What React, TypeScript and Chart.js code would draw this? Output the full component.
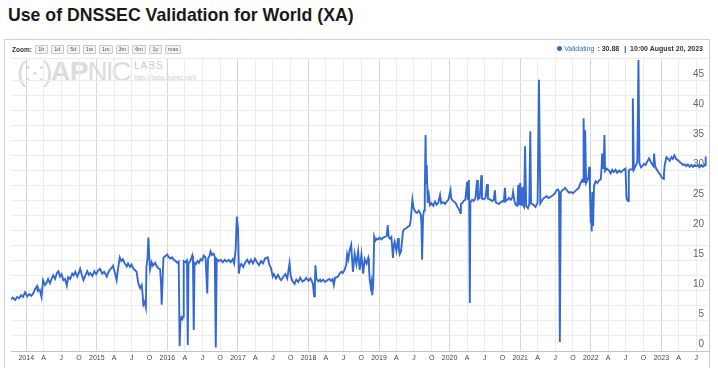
import React, { useEffect, useRef } from 'react';
import { Chart, registerables } from 'chart.js';

Chart.register(...registerables);

// ---------- data ----------
const chartTitle = 'Use of DNSSEC Validation for World (XA)';
const seriesName = 'Validating';
const lastValueText = '30.88';
const lastTimeText = '10:00 August 20, 2023';
const zoomButtons = ['1h', '1d', '5d', '1w', '1m', '3m', '6m', '1y', 'max'];
const quarterLetters = ['', 'A', 'J', 'O']; // Jan shows the year
const xRange = ['2013-10-14', '2023-08-31'];
const yMax = 48.83;
const yGridStep = 2.5;
const yLabelStep = 5;

const dates = [
  '2013-10-14','2013-10-24','2013-11-04','2013-11-15','2013-11-25','2013-12-05','2013-12-15','2013-12-26',
  '2014-01-06','2014-01-16','2014-01-27','2014-02-06','2014-02-17','2014-02-26','2014-03-02','2014-03-12',
  '2014-03-21','2014-03-29','2014-04-08','2014-04-17','2014-04-24','2014-05-04','2014-05-14','2014-05-21',
  '2014-05-30','2014-06-09','2014-06-16','2014-06-25','2014-07-03','2014-07-12','2014-07-21','2014-07-30',
  '2014-08-06','2014-08-16','2014-08-27','2014-09-03','2014-09-12','2014-09-22','2014-09-30','2014-10-07',
  '2014-10-15','2014-10-24','2014-11-03','2014-11-13','2014-11-21','2014-11-28','2014-12-09','2014-12-19',
  '2014-12-29',
  '2015-01-08','2015-01-18','2015-01-29','2015-02-08','2015-02-22','2015-02-28','2015-03-09','2015-03-20',
  '2015-03-26','2015-04-05','2015-04-14','2015-04-20','2015-04-30','2015-05-08','2015-05-16','2015-05-26',
  '2015-06-05','2015-06-12','2015-06-22','2015-06-30','2015-07-08','2015-07-17','2015-07-26','2015-08-04',
  '2015-08-13','2015-08-22','2015-08-26','2015-08-30','2015-09-06','2015-09-12','2015-09-15','2015-09-21',
  '2015-09-25','2015-09-30','2015-10-04','2015-10-12','2015-10-19','2015-10-30','2015-11-08','2015-11-15',
  '2015-11-25','2015-11-30','2015-12-03','2015-12-08','2015-12-12','2015-12-21',
  '2016-01-01','2016-01-07','2016-01-18','2016-01-26','2016-02-04','2016-02-13','2016-02-22','2016-02-29',
  '2016-03-05','2016-03-09','2016-03-14','2016-03-19','2016-03-23','2016-03-26','2016-04-04','2016-04-12',
  '2016-04-16','2016-04-20','2016-04-27','2016-05-03','2016-05-09','2016-05-13','2016-05-17','2016-05-21',
  '2016-05-29','2016-06-06','2016-06-13','2016-06-21','2016-06-29','2016-07-08','2016-07-17','2016-07-26',
  '2016-07-30','2016-08-07','2016-08-12','2016-08-20','2016-08-28','2016-09-03','2016-09-08','2016-09-13',
  '2016-09-23','2016-10-03','2016-10-14','2016-10-24','2016-11-04','2016-11-14','2016-11-24','2016-12-05',
  '2016-12-12','2016-12-20','2016-12-26',
  '2017-01-01','2017-01-06','2017-01-10','2017-01-18','2017-01-28','2017-02-08','2017-02-18','2017-02-28',
  '2017-03-09','2017-03-19','2017-03-30','2017-04-09','2017-04-20','2017-04-30','2017-05-10','2017-05-21',
  '2017-06-04','2017-06-11','2017-06-21','2017-06-30','2017-07-06','2017-07-17','2017-07-27','2017-08-07',
  '2017-08-12','2017-08-22','2017-09-03','2017-09-13','2017-09-25','2017-10-01','2017-10-09','2017-10-21',
  '2017-10-30','2017-11-09','2017-11-19','2017-11-30','2017-12-12','2017-12-20',
  '2018-01-01','2018-01-11','2018-01-16','2018-01-24','2018-01-30','2018-02-03','2018-02-06','2018-02-11',
  '2018-02-22','2018-03-02','2018-03-07','2018-03-18','2018-03-28','2018-04-08','2018-04-18','2018-04-28',
  '2018-05-06','2018-05-12','2018-05-19','2018-06-03','2018-06-09','2018-06-20','2018-06-27','2018-07-06',
  '2018-07-15','2018-07-20','2018-07-26','2018-08-02','2018-08-10','2018-08-19','2018-08-28','2018-09-06',
  '2018-09-15','2018-09-23','2018-10-02','2018-10-11','2018-10-19','2018-10-28','2018-11-06','2018-11-10',
  '2018-11-14','2018-11-19','2018-11-23','2018-11-27','2018-12-02','2018-12-07','2018-12-14','2018-12-21',
  '2018-12-28',
  '2019-01-04','2019-01-14','2019-01-22','2019-02-01','2019-02-10','2019-02-15','2019-02-20','2019-02-27',
  '2019-03-06','2019-03-11','2019-03-14','2019-03-18','2019-03-23','2019-04-01','2019-04-06','2019-04-10',
  '2019-04-14','2019-04-18','2019-04-24','2019-04-29','2019-05-05','2019-05-12','2019-05-23','2019-05-30',
  '2019-06-09','2019-06-14','2019-06-17','2019-06-23','2019-06-28','2019-07-02','2019-07-09','2019-07-16',
  '2019-07-26','2019-08-05','2019-08-09','2019-08-12','2019-08-17','2019-08-22','2019-08-26','2019-08-30',
  '2019-09-02','2019-09-05','2019-09-10','2019-09-16','2019-09-22','2019-09-30','2019-10-09','2019-10-18',
  '2019-10-26','2019-11-04','2019-11-13','2019-11-19','2019-11-29','2019-12-08','2019-12-17','2019-12-26',
  '2020-01-06','2020-01-09','2020-01-14','2020-01-23','2020-02-01','2020-02-10','2020-02-19','2020-02-27',
  '2020-02-29','2020-03-06','2020-03-14','2020-03-23','2020-04-01','2020-04-05','2020-04-10','2020-04-12',
  '2020-04-15','2020-04-18','2020-04-27','2020-05-05','2020-05-14','2020-05-23','2020-05-27','2020-06-05',
  '2020-06-14','2020-06-17','2020-06-26','2020-07-05','2020-07-13','2020-07-18','2020-07-26','2020-08-09',
  '2020-08-17','2020-08-23','2020-08-27','2020-09-05','2020-09-14','2020-09-22','2020-09-30','2020-10-08',
  '2020-10-14','2020-10-18','2020-10-26','2020-11-04','2020-11-13','2020-11-21','2020-11-25','2020-12-02',
  '2020-12-08','2020-12-17','2020-12-22','2020-12-28',
  '2021-01-01','2021-01-06','2021-01-13','2021-01-17','2021-01-21','2021-01-26','2021-02-01','2021-02-10',
  '2021-02-17','2021-02-22','2021-02-26','2021-03-09','2021-03-21','2021-04-01','2021-04-08','2021-04-15',
  '2021-04-22','2021-04-30','2021-05-09','2021-05-18','2021-05-28','2021-06-08','2021-06-21','2021-06-30',
  '2021-07-08','2021-07-16','2021-07-21','2021-07-25','2021-07-30','2021-08-04','2021-08-13','2021-08-21',
  '2021-08-30','2021-09-10','2021-09-22','2021-09-30','2021-10-11','2021-10-21','2021-10-30','2021-11-08',
  '2021-11-17','2021-11-22','2021-11-25','2021-11-30','2021-12-03','2021-12-08','2021-12-15','2021-12-20',
  '2021-12-24','2021-12-28',
  '2022-01-01','2022-01-04','2022-01-06','2022-01-09','2022-01-13','2022-01-18','2022-01-26','2022-02-04',
  '2022-02-15','2022-02-22','2022-02-26','2022-03-01','2022-03-06','2022-03-09','2022-03-13','2022-03-16',
  '2022-03-25','2022-04-05','2022-04-14','2022-04-22','2022-04-30','2022-05-09','2022-05-18','2022-05-28',
  '2022-06-05','2022-06-13','2022-06-21','2022-06-30','2022-07-05','2022-07-08','2022-07-13','2022-07-17',
  '2022-07-24','2022-08-04','2022-08-07','2022-08-12','2022-08-21','2022-08-30','2022-09-05','2022-09-10',
  '2022-09-18','2022-09-25','2022-10-04','2022-10-12','2022-10-21','2022-10-30','2022-11-08','2022-11-17',
  '2022-11-22','2022-11-25','2022-11-30','2022-12-03','2022-12-12','2022-12-21','2022-12-29',
  '2023-01-02','2023-01-11','2023-01-15','2023-01-19','2023-01-28','2023-02-06','2023-02-14','2023-02-23',
  '2023-03-02','2023-03-10','2023-03-19','2023-03-28','2023-04-06','2023-04-15','2023-04-23','2023-05-02',
  '2023-05-10','2023-05-19','2023-05-28','2023-06-06','2023-06-14','2023-06-23','2023-07-01','2023-07-10',
  '2023-07-18','2023-07-27','2023-08-05','2023-08-13','2023-08-17','2023-08-18','2023-08-19','2023-08-20',
];

const validating = [
  8.6, 8.9, 8.5, 9.0, 8.8, 9.3, 9.0, 9.8,
  9.1, 9.5, 9.2, 9.6, 10.4, 10.8, 10.0, 10.2,
  9.0, 11.8, 11.0, 11.4, 12.0, 11.3, 12.2, 12.6,
  12.0, 13.0, 13.3, 12.4, 12.8, 11.8, 12.0, 10.9,
  12.3, 12.0, 12.9, 12.6, 13.2, 12.4, 13.0, 13.7,
  12.8, 11.8, 12.6, 13.3, 12.7, 13.0, 12.5, 13.3,
  12.8,
  13.4, 13.7, 12.9, 13.2, 12.4, 13.0, 13.5, 13.9,
  14.2, 13.0, 11.8, 13.5, 15.6, 15.0, 15.3, 14.6,
  14.1, 14.6, 14.0, 14.4, 13.8, 13.5, 13.2, 11.3,
  10.5, 11.0, 9.5, 7.7, 8.2, 7.3, 14.0, 15.5,
  18.9, 15.5, 13.6, 14.8, 14.2, 14.7, 14.1, 13.8,
  13.6, 11.0, 7.7, 12.0, 15.5, 15.8,
  16.1, 15.7, 15.4, 15.6, 15.2, 15.0, 14.7, 14.9,
  0.8, 5.0, 5.6, 5.3, 5.7, 15.0, 14.8, 15.1,
  1.0, 14.6, 14.9, 15.3, 15.9, 15.0, 3.5, 14.7,
  14.5, 15.0, 14.7, 15.3, 15.1, 15.9, 15.6, 9.6,
  15.4, 15.9, 16.6, 16.0, 16.2, 15.7, 0.6, 15.3,
  15.0, 15.2, 14.8, 15.2, 14.9, 15.2, 14.8, 15.3,
  14.6, 16.9, 22.4,
  20.5, 12.9, 14.0, 14.5, 14.0, 14.8, 15.2, 14.6,
  15.2, 14.6, 15.4, 14.8, 14.3, 15.0, 14.6, 15.4,
  15.6, 14.5, 13.8, 12.4, 12.8, 12.1, 12.7, 12.0,
  11.8, 12.3, 12.8, 12.1, 14.6, 12.5, 11.7, 11.2,
  11.9, 11.5, 12.2, 11.6, 11.8, 12.2,
  11.7, 12.1, 11.8, 11.2, 9.1, 11.0, 14.3, 12.0,
  11.6, 11.9, 11.6, 11.9, 11.5, 11.8, 12.0, 11.7,
  12.0, 11.0, 12.2, 12.4, 12.8, 13.2, 13.0, 13.5,
  14.3, 16.1, 15.3, 16.8, 17.7, 13.2, 16.2, 14.5,
  16.6, 13.5, 16.1, 12.9, 15.3, 14.6, 15.5, 14.0,
  11.8, 10.7, 11.5, 9.3, 11.0, 19.1, 18.4, 18.7,
  18.6,
  18.9, 18.6, 18.9, 19.0, 19.2, 21.0, 19.0, 18.7,
  19.0, 17.0, 15.5, 17.5, 18.2, 16.7, 17.8, 18.8,
  17.0, 16.1, 16.5, 17.9, 19.9, 20.3, 20.5, 20.7,
  20.9, 21.8, 22.9, 25.2, 24.0, 23.6, 23.2, 23.0,
  23.4, 22.8, 21.0, 15.2, 22.5, 23.4, 26.3, 36.0,
  28.0, 31.0, 24.7, 26.0, 24.3, 24.6, 24.2, 24.9,
  24.4, 24.7, 26.0, 24.6, 24.8, 24.5, 24.9, 25.2,
  26.8, 25.5, 25.2, 24.9, 24.7, 24.1, 23.6, 23.0,
  24.5, 24.6, 25.0, 25.2, 28.2, 25.2, 28.5, 25.0,
  8.0, 24.8, 25.2, 25.0, 25.5, 28.5, 25.3, 25.5,
  29.3, 25.4, 25.3, 25.5, 27.8, 25.4, 25.3, 25.0,
  25.2, 26.8, 24.8, 24.6, 24.5, 24.8, 25.0, 24.9,
  27.2, 25.0, 25.2, 25.5, 25.2, 25.6, 26.5, 25.0,
  24.4, 24.2, 27.7, 24.3,
  28.0, 24.2, 27.3, 24.2, 24.0, 34.1, 24.1, 23.8,
  24.5, 36.6, 24.6, 24.4, 24.0, 24.7, 45.2, 24.6,
  25.0, 25.4, 25.6, 25.8, 25.5, 25.7, 26.0, 26.3,
  26.8, 26.9, 26.5, 1.5, 26.4, 26.7, 26.9, 27.2,
  26.8, 26.4, 26.5, 26.3, 26.6, 26.9, 27.1, 27.9,
  28.5, 28.2, 38.8, 28.0, 36.8, 28.0, 28.5, 29.0,
  30.7, 27.0,
  21.3, 24.0, 19.9, 26.5, 20.8, 27.5, 28.3, 28.0,
  28.5, 28.6, 30.5, 32.9, 30.5, 31.0, 36.0, 30.0,
  30.4, 30.1, 29.6, 30.2, 29.8, 30.2, 29.7, 30.1,
  29.8, 30.0, 30.2, 30.4, 25.7, 25.2, 25.0, 30.1,
  30.3, 30.2, 42.1, 30.2, 30.8, 31.5, 48.5, 31.3,
  30.6, 30.8, 31.2, 31.0, 31.6, 32.1, 31.5, 31.0,
  30.8, 32.9, 30.8, 30.6, 30.1, 29.6, 29.3,
  29.0, 28.7, 29.5, 31.0, 32.3, 32.0, 31.7, 32.3,
  32.0, 32.6, 32.0, 31.8, 31.5, 31.3, 31.0, 31.1,
  30.8, 31.1, 30.7, 31.0, 30.7, 31.0, 30.8, 31.0,
  30.6, 31.0, 30.7, 30.9, 31.2, 32.4, 31.0, 30.88,
];

// ---------- styles ----------
const lineColor = '#3468d2';
const sans = "'Liberation Sans', Arial, sans-serif";

export default function App() {
  const canvasRef = useRef<HTMLCanvasElement>(null);

  useEffect(() => {
    const canvas = canvasRef.current;
    if (!canvas) return;
    const points = dates.map((d, i) => ({ x: Date.parse(d), y: validating[i] }));
    const chart = new Chart(canvas, {
      type: 'line',
      data: {
        datasets: [
          {
            label: seriesName,
            data: points,
            borderColor: lineColor,
            borderWidth: 1.9,
            pointRadius: 0,
            tension: 0,
            fill: false,
          },
        ],
      },
      options: {
        animation: false,
        responsive: false,
        devicePixelRatio: 1,
        layout: { padding: { left: 11, right: 10, top: 58, bottom: 0 } },
        plugins: {
          legend: { display: false },
          tooltip: { enabled: false },
          title: { display: false },
        },
        scales: {
          x: {
            type: 'linear',
            min: Date.parse(xRange[0]),
            max: Date.parse(xRange[1]),
            afterBuildTicks: (scale: any) => {
              const ticks: { value: number }[] = [];
              const y0 = new Date(scale.min).getUTCFullYear();
              const y1 = new Date(scale.max).getUTCFullYear();
              for (let y = y0; y <= y1; y++) {
                for (let q = 0; q < 4; q++) {
                  const t = Date.UTC(y, q * 3, 1);
                  if (t >= scale.min && t <= scale.max) ticks.push({ value: t });
                }
              }
              scale.ticks = ticks;
            },
            afterFit: (scale: any) => {
              scale.height = 17;
              scale.paddingLeft = 0;
              scale.paddingRight = 0;
            },
            grid: {
              drawTicks: false,
              color: (ctx: any) => {
                const v = ctx.tick ? ctx.tick.value : 0;
                return new Date(v).getUTCMonth() === 0 ? '#d4d4d4' : '#ebebeb';
              },
            },
            border: { display: true, color: '#c4c4c4' },
            ticks: {
              autoSkip: false,
              maxRotation: 0,
              padding: 3,
              color: '#444',
              font: { family: sans, size: 7 },
              callback: (value: any) => {
                const d = new Date(Number(value));
                const m = d.getUTCMonth();
                return m === 0 ? String(d.getUTCFullYear()) : quarterLetters[Math.floor(m / 3)];
              },
            },
          },
          y: {
            position: 'right',
            min: 0,
            max: yMax,
            afterFit: (scale: any) => {
              scale.width = 0;
              scale.paddingTop = 0;
              scale.paddingBottom = 0;
            },
            grid: { drawTicks: false, color: '#ececec' },
            border: { display: false },
            ticks: {
              stepSize: yGridStep,
              autoSkip: false,
              mirror: true,
              padding: -4,
              labelOffset: -7,
              color: '#666',
              font: { family: sans, size: 10 },
              callback: (value: any) => (Number(value) % yLabelStep === 0 ? String(value) : ''),
            },
          },
        },
      },
    });
    return () => chart.destroy();
  }, []);

  return (
    <div style={{ position: 'fixed', left: 0, top: 0, width: 718, height: 368, overflow: 'hidden', background: '#fff' }}>
      <div
        style={{
          position: 'absolute', left: 8, top: 6, fontFamily: sans,
          fontWeight: 'bold', fontSize: 17.7, lineHeight: '18px', color: '#1a1a1a', whiteSpace: 'nowrap',
        }}
      >
        {chartTitle}
      </div>
      <div style={{ position: 'absolute', left: 4, top: 39, width: 706, height: 340, border: '1px solid #cfcfcf', boxSizing: 'border-box' }} />
      {/* watermark */}
      <div style={{ position: 'absolute', left: 17, top: 58, fontFamily: sans, fontSize: 28, lineHeight: '28px', color: '#dcdcdc', whiteSpace: 'nowrap' }}>
        <span style={{ letterSpacing: -2 }}>(:·:)</span>
        <span style={{ fontWeight: 'bold', letterSpacing: -1 }}>AP</span>
        <span style={{ letterSpacing: -2 }}>NIC</span>
      </div>
      <div style={{ position: 'absolute', left: 134, top: 61, fontFamily: sans, fontSize: 10, lineHeight: '10px', color: '#cccccc', letterSpacing: 1 }}>LABS</div>
      <div style={{ position: 'absolute', left: 134, top: 74, fontFamily: sans, fontSize: 7, lineHeight: '8px', color: '#d2d2d2' }}>http://labs.apnic.net/</div>
      <canvas ref={canvasRef} width={718} height={368} style={{ position: 'absolute', left: 0, top: 0, width: 718, height: 368 }} />
      {/* zoom bar */}
      <div style={{ position: 'absolute', left: 12, top: 44, height: 10, display: 'flex', alignItems: 'center', fontFamily: sans, whiteSpace: 'nowrap' }}>
        <span style={{ fontSize: 6.5, fontWeight: 'bold', color: '#333', marginRight: 3 }}>Zoom:</span>
        {zoomButtons.map((b) => (
          <span
            key={b}
            style={{
              display: 'inline-block', fontSize: 5.5, lineHeight: '7px', color: '#555', padding: '0 2px',
              minWidth: 7, textAlign: 'center', border: '1px solid #c9c9c9', background: '#f3f3f3',
              borderRadius: 1, marginRight: 3,
            }}
          >
            {b}
          </span>
        ))}
      </div>
      {/* legend */}
      <div
        style={{
          position: 'absolute', right: 718 - 703, top: 44, height: 9, display: 'flex', alignItems: 'center',
          fontFamily: sans, fontSize: 7, whiteSpace: 'nowrap', color: '#333',
        }}
      >
        <span style={{ display: 'inline-block', width: 5, height: 5, borderRadius: 3, background: lineColor, marginRight: 2 }} />
        <span style={{ color: lineColor }}>{seriesName}</span>
        <span style={{ fontWeight: 'bold', marginLeft: 3 }}>: {lastValueText}</span>
        <span style={{ fontWeight: 'bold', marginLeft: 5 }}>|&nbsp;&nbsp;{lastTimeText}</span>
      </div>
    </div>
  );
}
